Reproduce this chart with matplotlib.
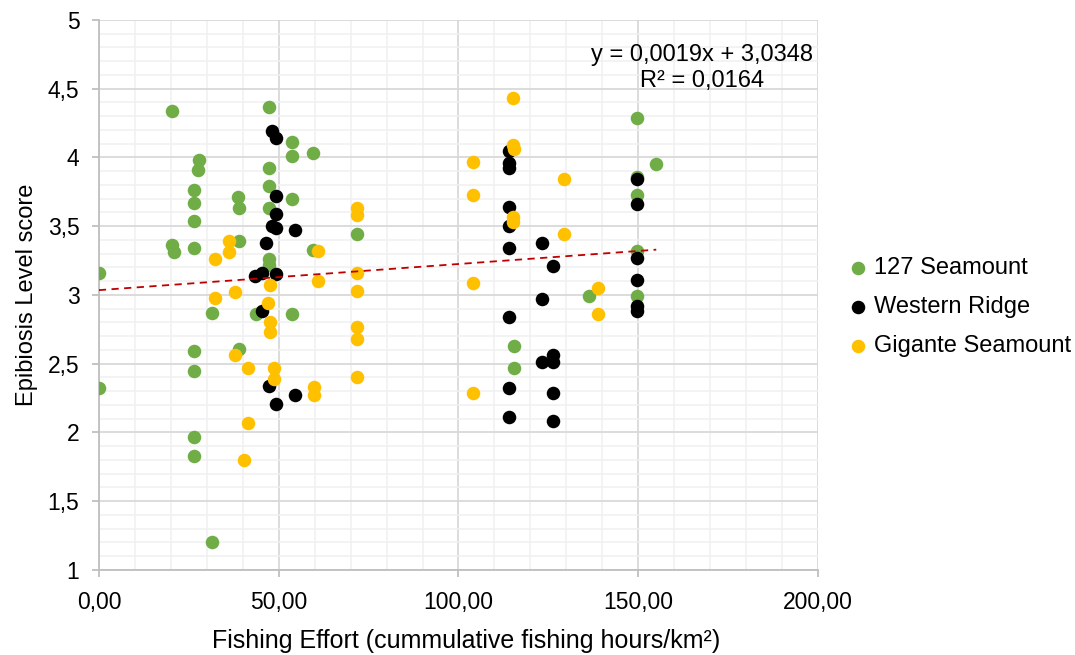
import numpy as np
import matplotlib.pyplot as plt
from matplotlib.ticker import MultipleLocator, FuncFormatter

# data
seamount127_x = [0, 0, 20.3, 20.3, 20.9, 27.8, 27.5, 26.4, 26.4, 26.4, 26.4, 26.4, 26.4, 26.4, 26.4,
                 31.4, 31.4, 38.7, 38.9, 38.9, 38.9, 43.7, 47.3, 47.3, 47.3, 47.3, 47.3, 47.3,
                 53.7, 53.7, 53.7, 53.7, 59.5, 59.5, 71.8, 115.4, 115.4, 136.3,
                 149.7, 149.7, 149.7, 149.7, 149.7, 155.0]
seamount127_y = [3.16, 2.32, 4.34, 3.36, 3.31, 3.98, 3.91, 3.76, 3.67, 3.54, 3.34, 2.59, 2.45, 1.97, 1.83,
                 1.20, 2.87, 3.71, 3.63, 3.39, 2.61, 2.86, 4.37, 3.92, 3.79, 3.63, 3.26, 3.22,
                 4.11, 4.01, 3.70, 2.86, 4.03, 3.33, 3.44, 2.63, 2.47, 2.99,
                 4.29, 3.86, 3.73, 3.32, 2.99, 3.95]

western_x = [48.1, 49.2, 49.2, 49.2, 48.1, 49.2, 54.5, 46.5, 43.4, 45.3, 49.2, 45.3, 47.3, 49.2, 54.5,
             114.0, 114.0, 114.0, 114.0, 114.0, 114.0, 123.2, 126.3, 114.0, 123.2, 114.0, 114.0,
             126.3, 123.2, 126.3, 126.3, 126.3,
             149.7, 149.7, 149.7, 149.7, 149.7, 149.7]
western_y = [4.19, 4.14, 3.72, 3.59, 3.50, 3.49, 3.47, 3.38, 3.14, 3.16, 3.15, 2.88, 2.34, 2.21, 2.27,
             4.05, 3.96, 3.92, 3.64, 3.50, 3.34, 3.38, 3.21, 2.84, 2.97, 2.32, 2.11,
             2.56, 2.51, 2.51, 2.29, 2.08,
             3.84, 3.66, 3.27, 3.11, 2.92, 2.88]

gigante_x = [32.3, 36.2, 36.2, 32.3, 37.8, 37.8, 41.4, 41.4, 40.3,
             47.6, 47.0, 47.6, 47.6, 48.6, 48.6, 61.0, 61.0, 59.8, 59.8,
             71.8, 71.8, 71.8, 71.8, 71.8, 71.8, 71.8,
             104.0, 104.0, 104.0, 104.0, 115.2, 115.2, 115.4, 115.2, 115.2,
             129.3, 129.3, 138.8, 138.8]
gigante_y = [3.26, 3.39, 3.31, 2.98, 3.02, 2.56, 2.47, 2.07, 1.80,
             3.07, 2.94, 2.80, 2.73, 2.47, 2.39, 3.10, 3.32, 2.33, 2.27,
             3.63, 3.58, 3.16, 3.03, 2.77, 2.68, 2.40,
             3.97, 3.73, 3.09, 2.29, 4.43, 4.09, 4.06, 3.57, 3.53,
             3.84, 3.44, 3.05, 2.86]

# trendline coefficients as printed on the chart
slope = 0.0019
intercept = 3.0348
r2 = 0.0164

plt.rcParams['font.family'] = ['Liberation Sans', 'DejaVu Sans']

fig = plt.figure(figsize=(10.75, 6.55), dpi=100)
ax = fig.add_axes([0.092, 0.130, 0.669, 0.8395])

msize = 95
ax.scatter(seamount127_x, seamount127_y, s=msize, color='#70AD47', label='127 Seamount', zorder=3, linewidths=0)
ax.scatter(western_x, western_y, s=msize, color='#000000', label='Western Ridge', zorder=3, linewidths=0)
ax.scatter(gigante_x, gigante_y, s=msize, color='#FFC000', label='Gigante Seamount', zorder=3, linewidths=0)

xmax = max(max(seamount127_x), max(western_x), max(gigante_x))
tx = np.array([0, xmax])
ax.plot(tx, slope * tx + intercept, color='#C00000', linestyle=(0, (4, 3)), linewidth=1.3, zorder=4)

ax.text(0.839, 0.912, 'y = 0,0019x + 3,0348\nR² = 0,0164', transform=ax.transAxes,
        ha='center', va='center', fontsize=17, linespacing=1.25, zorder=5)

ax.set_xlim(0, 200)
ax.set_ylim(1, 5)
ax.xaxis.set_major_locator(MultipleLocator(50))
ax.xaxis.set_minor_locator(MultipleLocator(10))
ax.yaxis.set_major_locator(MultipleLocator(0.5))
ax.yaxis.set_minor_locator(MultipleLocator(0.1))
ax.xaxis.set_major_formatter(FuncFormatter(lambda v, p: f'{v:.2f}'.replace('.', ',')))
ax.yaxis.set_major_formatter(FuncFormatter(lambda v, p: f'{v:g}'.replace('.', ',')))

ax.grid(which='major', color='#D9D9D9', linewidth=1.3, zorder=0)
ax.grid(which='minor', color='#F0F0F0', linewidth=1.1, zorder=0)
ax.set_axisbelow(True)
for side in ['top', 'right']:
    ax.spines[side].set_visible(False)
for side in ['left', 'bottom']:
    ax.spines[side].set_color('#BFBFBF')
    ax.spines[side].set_linewidth(1.3)
ax.tick_params(which='major', length=5, color='#BFBFBF', width=1.3, labelsize=16.5)
ax.tick_params(axis='x', which='major', pad=10)
ax.tick_params(axis='y', which='major', pad=9)
ax.tick_params(which='minor', length=0)

ax.set_xlabel('Fishing Effort (cummulative fishing hours/km²)', fontsize=18, labelpad=11)
ax.xaxis.label.set_x(0.51)
ax.set_ylabel('Epibiosis Level score', fontsize=17, labelpad=7)

ax.legend(loc='center left', bbox_to_anchor=(1.02, 0.478), frameon=False, fontsize=17,
          handletextpad=0.05, labelspacing=0.72, borderpad=0, handlelength=1.2, markerscale=1.0)

fig.savefig('out.png', dpi=100)
